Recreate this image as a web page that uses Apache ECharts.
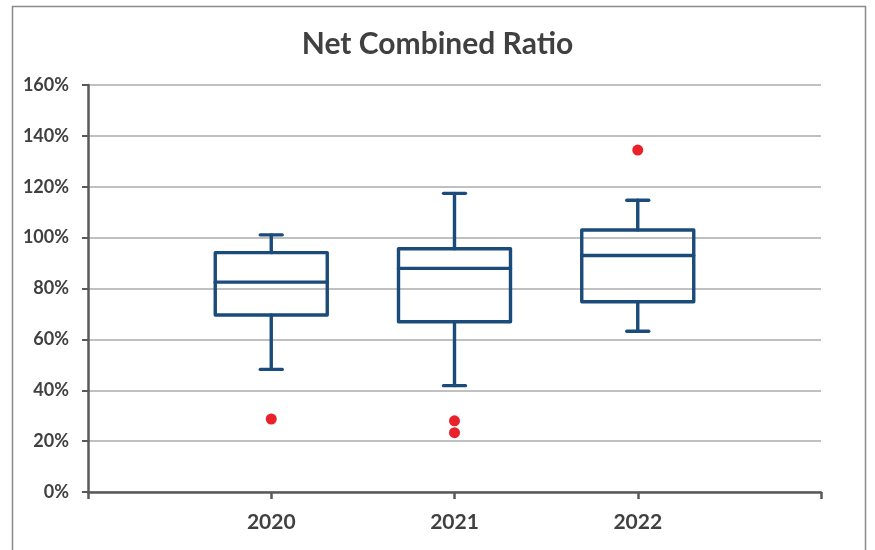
<!DOCTYPE html>
<html>
<head>
<meta charset="utf-8">
<script src="https://cdn.jsdelivr.net/npm/echarts@6/dist/echarts.min.js"></script>
<style>
html,body{margin:0;padding:0;background:#fff;}
#c{width:875px;height:550px;}
</style>
</head>
<body>
<div id="c"></div>
<script>
const years = ['2020', '2021', '2022'];
const lowWhisker = [48.2, 41.8, 63.2];
const q1 = [69.6, 66.9, 74.8];
const median = [82.5, 87.9, 93.0];
const q3 = [94.1, 95.6, 103.0];
const highWhisker = [101.1, 117.4, 114.7];
const outliers = [['2020', 28.7], ['2021', 28.0], ['2021', 23.3], ['2022', 134.4]];
const yTicks = [0, 20, 40, 60, 80, 100, 120, 140, 160];

const categories = [''].concat(years).concat(['']);
const boxData = years.map((y, i) => [i + 1, lowWhisker[i], q1[i], median[i], q3[i], highWhisker[i]]);
const outlierData = outliers.map(o => [years.indexOf(o[0]) + 1, o[1]]);

const BLUE = '#1B4B7A';
const chart = echarts.init(document.getElementById('c'));
chart.setOption({
  animation: false,
  title: {
    text: 'Net Combined Ratio', left: 'center', top: 24,
    textStyle: { fontFamily: 'Lato', fontWeight: 'bold', fontSize: 30, color: '#404040' }
  },
  graphic: [{
    type: 'rect', shape: { x: 12.5, y: 6.5, width: 853, height: 600 },
    style: { fill: 'none', stroke: '#8a8a8a', lineWidth: 1.5 }, silent: true, z: -1
  }],
  grid: { left: 88, right: 54, top: 85, bottom: 58 },
  xAxis: {
    type: 'category', data: categories, boundaryGap: false,
    axisLine: { lineStyle: { color: '#595959', width: 2.5 } },
    axisTick: { show: true, length: 7, lineStyle: { color: '#595959', width: 2.5 } },
    axisLabel: { margin: 20, fontFamily: 'Lato', fontWeight: 'bold', fontSize: 21, color: '#404040' },
    splitLine: { show: false }
  },
  yAxis: {
    type: 'value', min: yTicks[0], max: yTicks[yTicks.length - 1], interval: 20,
    axisLine: { show: true, lineStyle: { color: '#595959', width: 2.5 } },
    axisTick: { show: true, length: 6, lineStyle: { color: '#595959', width: 2 } },
    axisLabel: { formatter: '{value}%', margin: 19, fontFamily: 'Lato', fontWeight: 'bold', fontSize: 18, color: '#404040' },
    splitLine: { lineStyle: { color: '#C0C0C0', width: 2 } }
  },
  series: [{
    type: 'custom',
    data: boxData,
    encode: { x: 0, y: [1, 2, 3, 4, 5] },
    renderItem: function (params, api) {
      const x = api.value(0);
      const pLow = api.coord([x, api.value(1)]);
      const pQ1 = api.coord([x, api.value(2)]);
      const pMed = api.coord([x, api.value(3)]);
      const pQ3 = api.coord([x, api.value(4)]);
      const pHigh = api.coord([x, api.value(5)]);
      const cx = pMed[0];
      const hw = 56, cw = 11;
      const st = { stroke: BLUE, lineWidth: 3.4, fill: 'none', lineCap: 'round', lineJoin: 'round' };
      return {
        type: 'group',
        children: [
          { type: 'rect', shape: { x: cx - hw, y: pQ3[1], width: 2 * hw, height: pQ1[1] - pQ3[1] }, style: st },
          { type: 'line', shape: { x1: cx - hw, y1: pMed[1], x2: cx + hw, y2: pMed[1] }, style: st },
          { type: 'line', shape: { x1: cx, y1: pQ3[1], x2: cx, y2: pHigh[1] }, style: st },
          { type: 'line', shape: { x1: cx, y1: pQ1[1], x2: cx, y2: pLow[1] }, style: st },
          { type: 'line', shape: { x1: cx - cw, y1: pHigh[1], x2: cx + cw, y2: pHigh[1] }, style: st },
          { type: 'line', shape: { x1: cx - cw, y1: pLow[1], x2: cx + cw, y2: pLow[1] }, style: st }
        ]
      };
    },
    z: 3
  }, {
    type: 'scatter',
    data: outlierData,
    symbol: 'circle', symbolSize: 11,
    itemStyle: { color: '#E8212B', opacity: 1 },
    z: 4
  }]
});
</script>
</body>
</html>
